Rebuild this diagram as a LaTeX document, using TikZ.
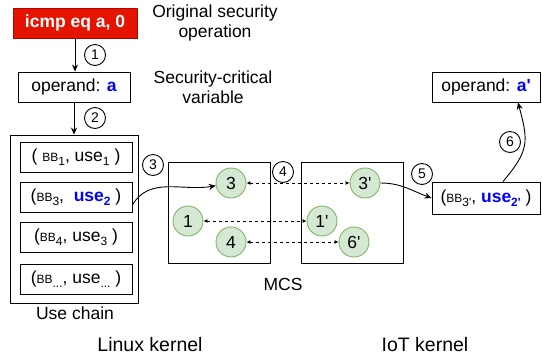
\documentclass[tikz,border=0pt]{standalone}
\usepackage{fontspec}
\setmainfont{Liberation Sans}
\usetikzlibrary{arrows.meta,positioning}

\definecolor{opred}{HTML}{E51400}
\definecolor{opredline}{HTML}{B20000}
\definecolor{mcsfill}{HTML}{D5E8D4}
\definecolor{mcsline}{HTML}{82B366}
\definecolor{varblue}{HTML}{0000FF}

\newcommand{\prm}{\textquotesingle}
\newcommand{\smallsub}[1]{\raisebox{-3.5pt}{\fontsize{12}{14}\selectfont #1}}
\newcommand{\bbname}[1]{{\fontsize{12}{14}\selectfont BB}\smallsub{#1}}
\newcommand{\hl}[1]{\textcolor{varblue}{\textbf{#1}}}

\tikzset{
  base/.style={font=\fontsize{17.5}{20}\selectfont, inner sep=0pt},
  redop/.style={base, fill=opred, draw=opredline, text=white, font=\fontsize{17.5}{20}\selectfont\bfseries,
    minimum width=124pt, minimum height=30pt},
  box/.style={base, draw, minimum width=112pt, minimum height=30pt},
  outer/.style={draw, minimum width=128pt, minimum height=168pt},
  mcsbox/.style={draw, minimum width=102pt, minimum height=101pt},
  mcsnode/.style={base, circle, fill=mcsfill, draw=mcsline, minimum size=30pt},
  num/.style={circle, draw, inner sep=0pt, minimum size=21pt, font=\fontsize{14}{16}\selectfont},
  label/.style={base, align=center},
  flow/.style={-{Stealth[length=7pt,width=6pt]}},
  link/.style={dashed, {Latex[length=4pt,width=4pt]}-{Latex[length=4pt,width=4pt]}},
}

\begin{document}
\begin{tikzpicture}[x=1pt,y=-1pt,line width=0.9pt]
  \useasboundingbox (0,0) rectangle (542,360);

  % Linux kernel side
  \node[redop] (icmp) at (75,23) {icmp eq a, 0};
  \node[label] (origtxt) at (215,23) {Original security\\operation};
  \node[box] (op) at (74,87) {operand: \hl{a}};
  \node[label] (vartxt) at (213,87) {Security-critical\\variable};

  \node[outer] (chain) at (74,219) {};
  \node[box] (useone) at (76,157) {( \bbname{1}, use\smallsub{1} )};
  \node[box] (usetwo) at (76,197) {(\bbname{3},\ \ \hl{use}\textcolor{varblue}{\bfseries\smallsub{2}} )};
  \node[box] (usethree) at (76,237) {(\bbname{4}, use\smallsub{3} )};
  \node[box] (usedots) at (76,279) {(\bbname{...}, use\smallsub{...} )};
  \node[label] (chaintxt) at (75,313) {Use chain};
  \node[label, font=\fontsize{19.5}{22}\selectfont] (linux) at (150,345) {Linux kernel};

  % MCS
  \node[mcsbox] (mcsl) at (219,212.5) {};
  \node[mcsbox] (mcsr) at (352,212.5) {};
  \node[label] (mcstxt) at (283,284) {MCS};
  \node[mcsnode] (lthree) at (231,183) {3};
  \node[mcsnode] (lone) at (188,221) {1};
  \node[mcsnode] (lfour) at (231,242) {4};
  \node[mcsnode] (rthree) at (365,183) {3\prm};
  \node[mcsnode] (rone) at (322,221) {1\prm};
  \node[mcsnode] (rsix) at (354,242) {6\prm};

  % IoT kernel side
  \node[box, minimum width=108pt] (iotop) at (486,87) {operand: \hl{a\prm}};
  \node[box, minimum width=108pt, minimum height=32pt] (iotuse) at (486,198)
    {(\bbname{3\prm}, \hl{use}\textcolor{varblue}{\bfseries\smallsub{2\prm}} )};
  \node[label, font=\fontsize{19.5}{22}\selectfont] (iot) at (425,345) {IoT kernel};

  % steps
  \draw[flow] (icmp) -- (icmp |- op.north);
  \draw[flow] (op) -- (op |- chain.north);
  \draw[flow] ([yshift=-8pt]usetwo.east) to[out=60,in=190] (lthree);
  \draw[link] (lthree) -- (rthree);
  \draw[link] (lone) -- (rone);
  \draw[link] (lfour) -- (rsix);
  \draw[flow] (rthree) to[out=0,in=160] (iotuse.west);
  \draw[flow] ([xshift=17pt]iotuse.north) to[out=50,in=-75,looseness=1.3] ([xshift=32pt]iotop.south);

  \node[num] (n1) at (95,55) {1};
  \node[num] (n2) at (95,118) {2};
  \node[num] (n3) at (153,165) {3};
  \node[num] (n4) at (283,172) {4};
  \node[num] (n5) at (422,174) {5};
  \node[num] (n6) at (510,142) {6};
\end{tikzpicture}
\end{document}
